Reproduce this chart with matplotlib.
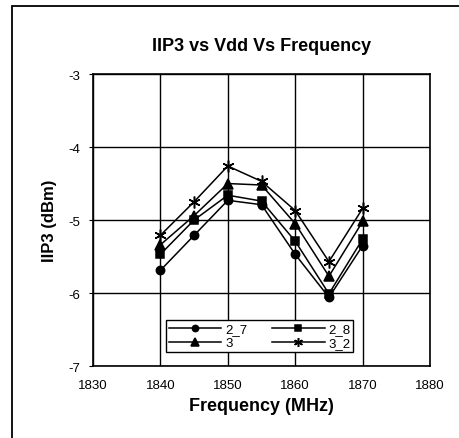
import matplotlib
matplotlib.use("Agg")
import matplotlib.pyplot as plt
from matplotlib.patches import Rectangle

plt.rcParams['font.family'] = ['Liberation Sans Narrow', 'Liberation Sans', 'DejaVu Sans']
plt.rcParams['axes.unicode_minus'] = False

freq = [1840, 1845, 1850, 1855, 1860, 1865, 1870]
iip3_2_7 = [-5.69, -5.21, -4.73, -4.79, -5.47, -6.06, -5.35]
iip3_2_8 = [-5.47, -5.00, -4.66, -4.74, -5.29, -6.01, -5.26]
iip3_3 = [-5.34, -4.94, -4.50, -4.52, -5.05, -5.77, -5.02]
iip3_3_2 = [-5.21, -4.75, -4.26, -4.47, -4.87, -5.57, -4.84]

series = [
    ('2_7', iip3_2_7, 'o', 6),
    ('2_8', iip3_2_8, 's', 5.5),
    ('3', iip3_3, '^', 7),
    ('3_2', iip3_3_2, (6, 2, 0), 8.5),
]

fig = plt.figure(figsize=(4.6, 4.39), dpi=100)
# outer frame around the whole chart (runs off the right and bottom edges)
fig.patches.append(Rectangle((12 / 460, -0.1), 1.2, 0.1 + 432 / 439, transform=fig.transFigure,
                             fill=False, edgecolor='black', linewidth=1.3, clip_on=False))
ax = fig.add_axes([0.202, 0.164, 0.733, 0.665])

lines = []
for name, vals, marker, ms in series:
    ln, = ax.plot(freq, vals, color='black', linewidth=1.1, marker=marker, markersize=ms,
                  markeredgewidth=1.1, label=name, zorder=3)
    lines.append(ln)

ax.set_xlim(1830, 1880)
ax.set_ylim(-7, -3)
ax.set_xticks(range(1830, 1881, 10))
ax.set_yticks(range(-7, -2))
ax.grid(True, color='black', linewidth=1.0)
ax.tick_params(axis='y', length=3, labelsize=9.5, pad=6)
ax.tick_params(axis='x', length=0, labelsize=9.5, pad=9)
ax.set_xticklabels([str(v) for v in range(1830, 1881, 10)], family='Liberation Sans')
ax.set_yticklabels([str(v) for v in range(-7, -2)], family='Liberation Sans')
for s in ax.spines.values():
    s.set_linewidth(1.2)

ax.set_title('IIP3 vs Vdd Vs Frequency', fontsize=13, fontweight='bold', pad=17)
ax.set_xlabel('Frequency (MHz)', fontsize=13, fontweight='bold', labelpad=5)
ax.set_ylabel('IIP3 (dBm)', fontsize=12, fontweight='bold', labelpad=8)

# row-wise legend order: 2_7 2_8 / 3 3_2
order = [0, 2, 1, 3]
leg = ax.legend([lines[i] for i in order], [series[i][0] for i in order], ncol=2,
                loc='lower left', bbox_to_anchor=(0.197, 0.025, 0.595, 0.125), mode='expand',
                prop={'family': 'Liberation Sans', 'size': 9.5}, frameon=True, fancybox=False,
                edgecolor='black', framealpha=1, handlelength=4, borderpad=0.2, labelspacing=0.15,
                handletextpad=0.3, columnspacing=1.0, markerscale=0.75)
leg.get_frame().set_linewidth(1.0)

fig.savefig('out.png', dpi=100)
